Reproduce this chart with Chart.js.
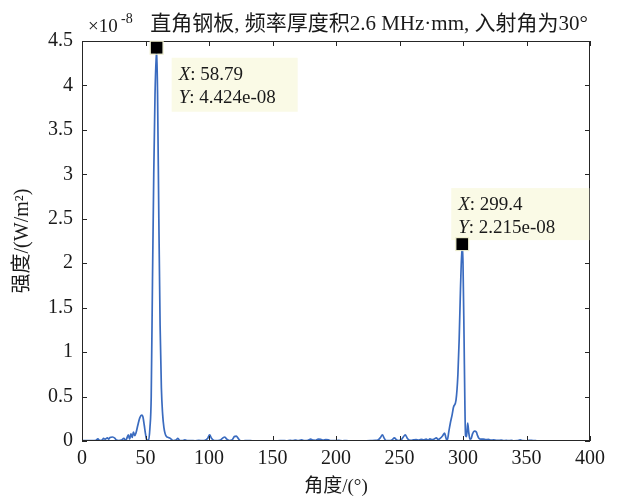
<!DOCTYPE html>
<html>
<head>
<meta charset="utf-8">
<script src="https://cdn.jsdelivr.net/npm/chart.js@4.4.0/dist/chart.umd.min.js"></script>
<style>
  html, body { margin: 0; padding: 0; background: #fff; }
</style>
</head>
<body>
<canvas id="chart" width="623" height="499"></canvas>
<script>
// angle in degrees, intensity in units of 1e-8 W/m^2
const angles = [
  0, 4, 8, 11, 12.5, 14, 16, 17, 18, 20, 21, 22, 24, 26, 27, 29, 31, 33, 34, 35,
  36.5, 37.5, 38.5, 39.5, 40.5, 41.5, 42.5, 44, 45.5, 47, 48, 49, 50, 51, 52.5,
  53.5, 54.5, 55.5, 56.5, 57.5, 58.79, 59.5, 60.5, 61.5, 62.5, 63.5, 64.5, 65.5, 66.5,
  68, 69.5, 71, 72, 74, 75.5, 77, 79, 81, 83, 86, 89, 92, 95, 97, 99, 100.5, 102,
  103.5, 105, 107, 109, 111, 112.5, 114, 116, 118, 120, 121.5, 123, 124.5, 127, 130,
  134, 138, 142, 146, 150, 154, 158, 161, 164, 166, 168, 170, 173, 175, 178, 180,
  182, 184, 186, 188, 190, 192, 194, 196, 199, 202, 205, 208, 212, 216, 220, 224,
  228, 231, 233, 235, 236.5, 238, 239.5, 242, 244, 246, 247.5, 249, 251, 253, 254.5,
  256, 257.5, 259, 261, 263, 265, 267, 269, 271, 272.5, 274, 275.5, 277, 279, 280.5,
  282, 284, 285.5, 286.5, 287.5, 289, 290, 291.5, 292.5, 294.5, 296, 297, 298, 299.4,
  300, 300.8, 301.5, 302, 302.8, 303.7, 304.5, 305.5, 306.5, 307.5, 309, 310.5, 311.5,
  312.5, 314, 316, 318, 320, 322, 324, 326, 328, 330, 332, 334, 336, 338, 340, 343,
  345, 347, 350, 352, 354, 356, 358
];
const intensity = [
  0.005, 0.005, 0.004, 0.006, 0.025, 0.005, 0.01, 0.03, 0.02, 0.035, 0.02, 0.04, 0.045, 0.03, 0.01, 0.005, 0.01, 0.03, 0.01, 0.02,
  0.07, 0.02, 0.08, 0.04, 0.1, 0.06, 0.09, 0.18, 0.26, 0.29, 0.27, 0.18, 0.08, 0.01, 0.01,
  0.15, 0.5, 1.8, 3.0, 3.9, 4.424, 3.9, 2.5, 1.3, 0.6, 0.3, 0.15, 0.08, 0.05,
  0.04, 0.03, 0.01, 0.005, 0.01, 0.03, 0.005, 0.004, 0.012, 0.004, 0.005, 0.003, 0.006, 0.004, 0.008, 0.03, 0.07, 0.03,
  0.01, 0.005, 0.005, 0.01, 0.035, 0.045, 0.02, 0.005, 0.01, 0.05, 0.055, 0.03, 0.005, 0.003, 0.004,
  0.003, 0.002, 0.003, 0.002, 0.003, 0.002, 0.005, 0.003, 0.008, 0.004, 0.01, 0.004, 0.012, 0.005, 0.008, 0.02,
  0.01, 0.008, 0.022, 0.018, 0.01, 0.015, 0.012, 0.005, 0.004, 0.006, 0.003, 0.004, 0.002, 0.003, 0.003, 0.002,
  0.004, 0.006, 0.01, 0.04, 0.07, 0.03, 0.005, 0.004, 0.012, 0.035, 0.015, 0.005, 0.01, 0.045, 0.07,
  0.035, 0.01, 0.008, 0.012, 0.015, 0.01, 0.018, 0.012, 0.02, 0.008, 0.025, 0.015, 0.02, 0.035, 0.015,
  0.03, 0.06, 0.09, 0.04, 0.005, 0.12, 0.2, 0.3, 0.38, 0.46, 0.75, 1.15, 1.7, 2.215,
  2.0, 1.2, 0.4, 0.06, 0.05, 0.2, 0.1, 0.02, 0.03, 0.08, 0.11, 0.1, 0.06,
  0.03, 0.02, 0.022, 0.015, 0.018, 0.01, 0.012, 0.008, 0.006, 0.01, 0.005, 0.006, 0.004, 0.008, 0.003, 0.004,
  0.012, 0.004, 0.003, 0.006, 0.008, 0.004, 0.003
];
const xTicks = [0, 50, 100, 150, 200, 250, 300, 350, 400];
const yTicks = [0, 0.5, 1, 1.5, 2, 2.5, 3, 3.5, 4, 4.5];
const tipAngles = [58.79, 299.4];

const serif = '"Liberation Serif", "Noto Sans CJK SC", serif';
const axisColor = '#262626';

// box around the plot with inward ticks on all four sides
const boxPlugin = {
  id: 'box',
  afterDatasetsDraw(chart) {
    const { ctx, chartArea: a, scales: { x, y } } = chart;
    ctx.save();
    ctx.strokeStyle = axisColor;
    ctx.lineWidth = 1;
    ctx.beginPath();
    xTicks.forEach(v => {
      const px = Math.round(x.getPixelForValue(v)) + 0.5;
      ctx.moveTo(px, a.bottom); ctx.lineTo(px, a.bottom - 5);
      ctx.moveTo(px, a.top); ctx.lineTo(px, a.top + 5);
    });
    yTicks.forEach(v => {
      const py = Math.round(y.getPixelForValue(v)) + 0.5;
      ctx.moveTo(a.left, py); ctx.lineTo(a.left + 5, py);
      ctx.moveTo(a.right, py); ctx.lineTo(a.right - 5, py);
    });
    ctx.stroke();
    ctx.strokeRect(Math.round(a.left) + 0.5, Math.round(a.top) + 0.5,
                   Math.round(a.width) - 1, Math.round(a.height) - 1);
    ctx.restore();
  },
  afterDraw(chart) {
    const { ctx } = chart;
    ctx.save();
    ctx.fillStyle = '#1a1a1a';
    ctx.textBaseline = 'alphabetic';
    // title
    ctx.font = '21px ' + serif;
    ctx.textAlign = 'center';
    ctx.fillText('直角钢板, 频率厚度积2.6 MHz·mm, 入射角为30°', 369, 30);
    // exponent label
    ctx.textAlign = 'left';
    ctx.font = '19px ' + serif;
    ctx.fillText('×10', 88, 32);
    ctx.font = '14px ' + serif;
    ctx.fillText('-8', 121, 23);
    ctx.restore();
  }
};

function fmtX(v) { return String(Number(v.toPrecision(4))); }
function fmtY(v) { return (v * 1e-8).toExponential(3).replace(/e([+-])(\d)$/, 'e$10$2'); }

// data tips: black square marker + pale yellow label box
const tipPlugin = {
  id: 'tips',
  afterDraw(chart) {
    const { ctx, scales: { x, y } } = chart;
    const offsets = [[15, 10, 126, 54], [-11, -56, 138, 52]];
    tipAngles.forEach((ang, k) => {
      const i = angles.indexOf(ang);
      const px = x.getPixelForValue(angles[i]);
      const py = y.getPixelForValue(intensity[i]);
      const [dx, dy, w, h] = offsets[k];
      ctx.save();
      ctx.fillStyle = 'rgb(250,250,230)';
      ctx.fillRect(px + dx, py + dy, w, h);
      ctx.fillStyle = '#000';
      ctx.strokeStyle = 'rgb(235,235,200)';
      ctx.lineWidth = 1;
      ctx.fillRect(px - 6, py - 6, 12, 12);
      ctx.strokeRect(px - 6.5, py - 6.5, 13, 13);
      ctx.fillStyle = '#1a1a1a';
      ctx.textAlign = 'left';
      ctx.textBaseline = 'alphabetic';
      const lines = [['X', ': ' + fmtX(angles[i])], ['Y', ': ' + fmtY(intensity[i])]];
      lines.forEach((ln, j) => {
        const tx = px + dx + 7, ty = py + dy + 22 + j * 23;
        ctx.font = 'italic 19px ' + serif;
        ctx.fillText(ln[0], tx, ty);
        const wItal = ctx.measureText(ln[0]).width;
        ctx.font = '19px ' + serif;
        ctx.fillText(ln[1], tx + wItal, ty);
      });
      ctx.restore();
    });
  }
};

new Chart(document.getElementById('chart'), {
  type: 'scatter',
  data: {
    datasets: [{
      data: angles.map((a, i) => ({ x: a, y: intensity[i] })),
      showLine: true,
      borderColor: '#3a6bbf',
      borderWidth: 1.7,
      pointRadius: 0,
      cubicInterpolationMode: 'monotone',
      tension: 0.3
    }]
  },
  options: {
    responsive: false,
    animation: false,
    events: [],
    layout: { padding: { top: 41, right: 33, left: 0, bottom: 0 } },
    plugins: { legend: { display: false }, tooltip: { enabled: false } },
    scales: {
      x: {
        type: 'linear',
        min: 0, max: 400,
        afterFit: s => { s.height = 58; },
        afterBuildTicks: s => { s.ticks = xTicks.map(v => ({ value: v })); },
        grid: { display: false, drawTicks: false },
        border: { display: false },
        ticks: { color: '#1a1a1a', padding: 6, maxRotation: 0, font: { family: serif, size: 20 } },
        title: {
          display: true, text: '角度/(°)', color: '#1a1a1a',
          padding: { top: 0, bottom: 1 }, font: { family: serif, size: 19 }
        }
      },
      y: {
        min: 0, max: 4.5,
        afterFit: s => { s.width = 82; },
        afterBuildTicks: s => { s.ticks = yTicks.map(v => ({ value: v })); },
        grid: { display: false, drawTicks: false },
        border: { display: false },
        ticks: {
          color: '#1a1a1a', padding: 9, font: { family: serif, size: 20 },
          callback: v => String(v)
        },
        title: {
          display: true, text: '强度/(W/m²)', color: '#1a1a1a',
          padding: { top: 11, bottom: 0 }, font: { family: serif, size: 20 }
        }
      }
    }
  },
  plugins: [boxPlugin, tipPlugin]
});
</script>
</body>
</html>
